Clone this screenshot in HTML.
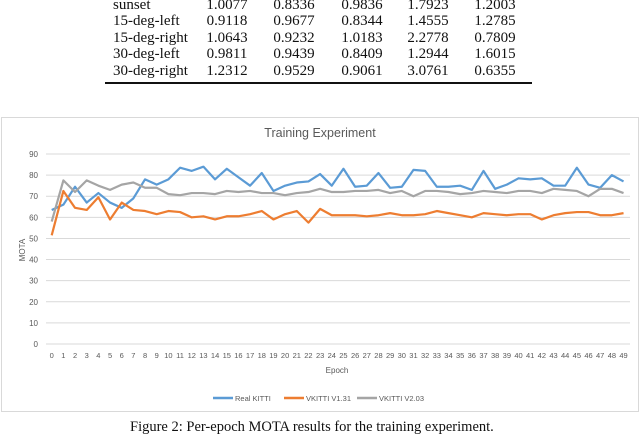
<!DOCTYPE html>
<html><head><meta charset="utf-8"><style>
body{margin:0;width:640px;height:430px;overflow:hidden;background:#fff;position:relative;font-family:"Liberation Serif",serif;}
.t{position:absolute;font-size:15px;color:#111;white-space:nowrap;line-height:15px}
.c{transform:translateX(-50%)}
</style></head><body>
<div style="position:absolute;left:0;top:0;width:640px;height:90px">
<script>
const rows=[["sunset","1.0077","0.8336","0.9836","1.7923","1.2003"],["15-deg-left","0.9118","0.9677","0.8344","1.4555","1.2785"],["15-deg-right","1.0643","0.9232","1.0183","2.2778","0.7809"],["30-deg-left","0.9811","0.9439","0.8409","1.2944","1.6015"],["30-deg-right","1.2312","0.9529","0.9061","3.0761","0.6355"]];
const ys=[-2,14,31,47,64];const cx=[227,294,362,428,495];
rows.forEach((r,i)=>{let d=document.createElement('div');d.className='t';d.style.left='113px';d.style.top=ys[i]+'px';d.textContent=r[0];


document.currentScript.parentNode.appendChild(d);
for(let j=1;j<6;j++){let e=document.createElement('div');e.className='t c';e.style.left=cx[j-1]+'px';e.style.top=ys[i]+'px';e.textContent=r[j];


document.currentScript.parentNode.appendChild(e);}});
</script>
<div style="position:absolute;left:105px;top:82px;width:427px;height:1.5px;background:#111"></div>
</div>
<svg id="c" width="640" height="430" style="position:absolute;left:0;top:0" font-family="Liberation Sans, sans-serif">
<rect x="1.5" y="117.5" width="637" height="294" fill="#fff" stroke="#d9d9d9"/>
<text x="320" y="137" font-size="12.5" fill="#595959" text-anchor="middle">Training Experiment</text>
<text x="0" y="0" font-size="8" fill="#595959" text-anchor="middle" transform="translate(25,250) rotate(-90)">MOTA</text>
<text x="337" y="373" font-size="8" fill="#595959" text-anchor="middle">Epoch</text>
<g id="grid"></g><g id="lines"></g><g id="legend"></g>
</svg>
<div class="t" style="left:130px;top:420px;font-size:14.5px">Figure 2: Per-epoch MOTA results for the training experiment.</div>
<script>
const yTicks=[0,10,20,30,40,50,60,70,80,90];
const epochs=Array.from({length:50},(_,i)=>i);
const realKitti=[63.5,66,74.5,67,71.5,67,64.5,69,78,75.5,78,83.5,82,84,78,83,79,75,81,72.5,75,76.5,77,80.5,75,83,74.5,75,81,74,74.5,82.5,82,74.5,74.5,75,73,82,73.5,75.5,78.5,78,78.5,75,75,83.5,75.5,74,80,77];
const vkitti131=[51.5,72.5,64.5,63.5,69.5,59,67,63.5,63,61.5,63,62.5,60,60.5,59,60.5,60.5,61.5,63,59,61.5,63,57.5,64,61,61,61,60.5,61,62,61,61,61.5,63,62,61,60,62,61.5,61,61.5,61.5,59,61,62,62.5,62.5,61,61,62];
const vkitti203=[58,77.5,72,77.5,75,73,75.5,76.5,74,74,71,70.5,71.5,71.5,71,72.5,72,72.5,71.5,71.5,70.5,71.5,72,73.5,72,72,72.5,72.5,73,71.5,72.5,70,72.5,72.5,72,71,71.5,72.5,72,71.5,72.5,72.5,71.5,73.5,73,72.5,70,73.5,73.5,71.5];
const series=[["Real KITTI",realKitti,"#5b9bd5"],["VKITTI V1.31",vkitti131,"#ed7d31"],["VKITTI V2.03",vkitti203,"#a5a5a5"]];
const X=i=>51.7+i*11.67, Y=v=>344-v*2.111;
const NS="http://www.w3.org/2000/svg";
const mk=(t,a,p)=>{const e=document.createElementNS(NS,t);for(const k in a)e.setAttribute(k,a[k]);p.appendChild(e);return e;};
const g=document.getElementById('grid');
yTicks.forEach(v=>{const l=mk('line',{x1:46,x2:630,y1:Y(v),y2:Y(v),stroke:'#d9d9d9','stroke-width':1},g);


const t=mk('text',{x:38,y:Y(v)+3,'font-size':8,fill:'#595959','text-anchor':'end'},g);t.textContent=v;

});
epochs.forEach(i=>{const t=mk('text',{x:X(i),y:358,'font-size':7.5,fill:'#595959','text-anchor':'middle'},g);t.textContent=i;

});
const L=document.getElementById('lines');
series.forEach(s=>{const p=mk('polyline',{points:s[1].map((v,i)=>X(i)+','+Y(v)).join(' '),fill:'none',stroke:s[2],'stroke-width':2.2,'stroke-linejoin':'round'},L);

});
const lg=document.getElementById('legend');const lx=[213,284,357];
series.forEach((s,k)=>{const l=mk('line',{x1:lx[k],x2:lx[k]+20,y1:398,y2:398,stroke:s[2],'stroke-width':2.5},lg);


const t=mk('text',{x:lx[k]+22,y:401,'font-size':7.5,fill:'#595959'},lg);t.textContent=s[0];

});
</script>
</body></html>
